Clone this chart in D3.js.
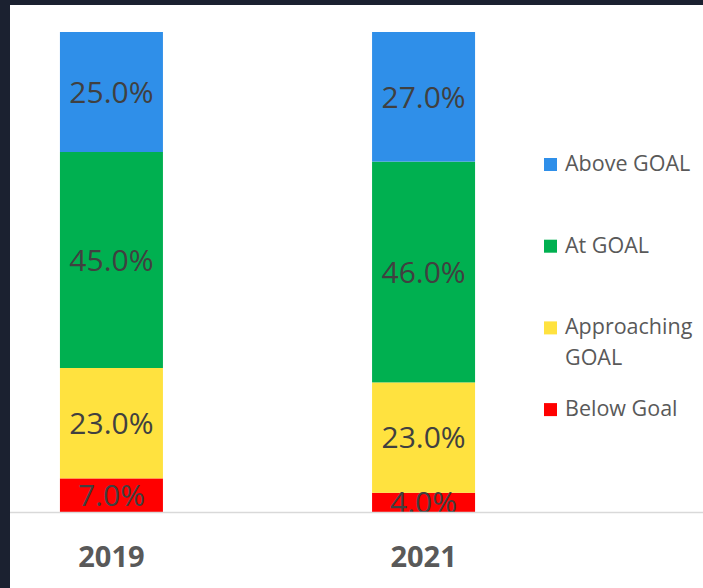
<!DOCTYPE html>
<html>
<head>
<meta charset="utf-8">
<script src="https://cdn.jsdelivr.net/npm/d3@7"></script>
<style>
  html, body { margin: 0; padding: 0; background: #1b2130; }
  svg { display: block; }
</style>
</head>
<body>
<svg id="chart" width="703" height="588"></svg>
<script>
// ---- data ----
const categories = ["2019", "2021"];
const seriesNames = ["Below Goal", "Approaching GOAL", "At GOAL", "Above GOAL"];
const belowGoal = [7, 4];
const approachingGoal = [23, 23];
const atGoal = [45, 46];
const aboveGoal = [25, 27];
const legendLabels = [["Above GOAL"], ["At GOAL"], ["Approaching", "GOAL"], ["Below Goal"]];
const legendKeys = ["Above GOAL", "At GOAL", "Approaching GOAL", "Below Goal"];

// ---- styles ----
const colors = {
  "Below Goal": "#ff0000",
  "Approaching GOAL": "#ffe23f",
  "At GOAL": "#00b050",
  "Above GOAL": "#2f8fe9"
};

const svg = d3.select("#chart");
const W = 703, H = 588;

// dark frame + white chart area
svg.append("rect").attr("x", 0).attr("y", 0).attr("width", W).attr("height", H).attr("fill", "#1b2130");
svg.append("rect").attr("x", 10).attr("y", 5).attr("width", W - 10).attr("height", H - 5).attr("fill", "#ffffff");

const table = categories.map((c, i) => ({
  cat: c,
  "Below Goal": belowGoal[i],
  "Approaching GOAL": approachingGoal[i],
  "At GOAL": atGoal[i],
  "Above GOAL": aboveGoal[i]
}));

const stacked = d3.stack().keys(seriesNames)(table);

const x = d3.scaleBand().domain(categories).range([10, 525]).paddingInner(0.67).paddingOuter(0.16);
const y = d3.scaleLinear().domain([0, 100]).range([512, 32]);

const defs = svg.append("defs");
defs.append("clipPath").attr("id", "plotclip")
  .append("rect").attr("x", 10).attr("y", 0).attr("width", W).attr("height", 512);

const g = svg.append("g");
const layers = g.selectAll("g.layer").data(stacked).join("g")
  .attr("class", "layer").attr("fill", d => colors[d.key]);

layers.selectAll("rect").data(d => d).join("rect")
  .attr("x", d => x(d.data.cat))
  .attr("width", x.bandwidth())
  .attr("y", d => y(d[1]))
  .attr("height", d => y(d[0]) - y(d[1]));

// data labels
const labels = svg.append("g").attr("clip-path", "url(#plotclip)");
stacked.forEach(layer => {
  labels.selectAll(null).data(layer).join("text")
    .attr("x", d => x(d.data.cat) + x.bandwidth() / 2)
    .attr("y", d => (y(d[0]) + y(d[1])) / 2)
    .attr("dy", "0.36em")
    .attr("text-anchor", "middle")
    .attr("font-family", "'Open Sans', sans-serif")
    .attr("font-size", 30)
    .attr("fill", "#404040")
    .text(d => d3.format(".1f")(d[1] - d[0]) + "%");
});

// axis line
svg.append("line").attr("x1", 10).attr("x2", W).attr("y1", 512.5).attr("y2", 512.5)
  .attr("stroke", "#d9d9d9").attr("stroke-width", 1.5);

// x axis labels
const xAxis = svg.append("g").attr("transform", "translate(0,512)")
  .call(d3.axisBottom(x).tickSize(0).tickPadding(0));
xAxis.select(".domain").remove();
xAxis.selectAll("text")
  .attr("y", 55)
  .attr("dy", 0)
  .attr("font-family", "'Open Sans', sans-serif")
  .attr("font-weight", "bold")
  .attr("font-size", 29)
  .attr("fill", "#595959");

// legend
const leg = svg.append("g");
legendKeys.forEach((k, i) => {
  const by = 171 + i * 81.7;
  leg.append("rect").attr("x", 544).attr("y", by - 13).attr("width", 13).attr("height", 13).attr("fill", colors[k]);
  const t = leg.append("text").attr("x", 565).attr("y", by)
    .attr("font-family", "'Open Sans', sans-serif").attr("font-size", 21.5).attr("fill", "#595959");
  legendLabels[i].forEach((line, j) => {
    t.append("tspan").attr("x", 565).attr("dy", j === 0 ? 0 : 31).text(line);
  });
});
</script>
</body>
</html>
